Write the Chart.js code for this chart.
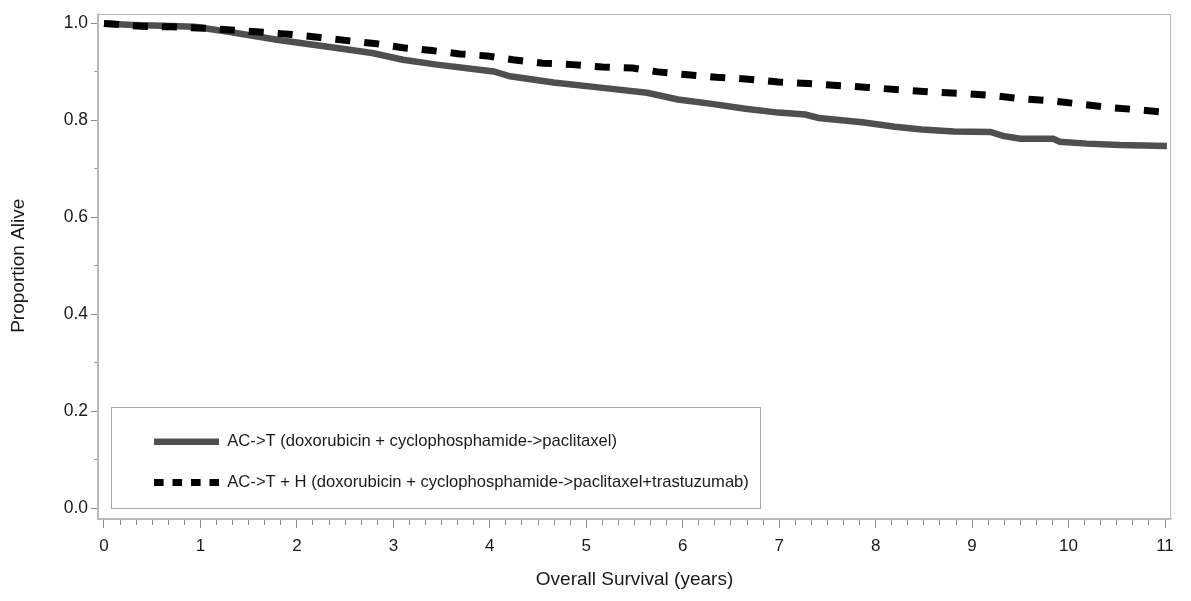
<!DOCTYPE html>
<html>
<head>
<meta charset="utf-8">
<script src="https://cdn.jsdelivr.net/npm/chart.js@4/dist/chart.umd.min.js"></script>
<style>
html,body{margin:0;padding:0;background:#fff;}
#wrap{width:1191px;height:601px;position:relative;}
canvas{display:block;}
</style>
</head>
<body>
<div id="wrap"><canvas id="c" width="1191" height="601"></canvas></div>
<script>
// ---- data ----
const seriesLabels = [
  'AC->T (doxorubicin + cyclophosphamide->paclitaxel)',
  'AC->T + H (doxorubicin + cyclophosphamide->paclitaxel+trastuzumab)'
];
const acTYears = [0, 0.3, 0.6, 0.94, 1.29, 1.81, 2.32, 2.78, 3.10, 3.45, 4.04, 4.21, 4.66, 5.17, 5.63, 5.95, 6.30, 6.65, 6.99, 7.27, 7.41, 7.86, 8.20, 8.48, 8.81, 9.19, 9.32, 9.50, 9.84, 9.91, 10.19, 10.53, 11.02];
const acTSurv  = [1.0, 0.997, 0.995, 0.993, 0.983, 0.966, 0.952, 0.939, 0.925, 0.915, 0.901, 0.891, 0.878, 0.867, 0.857, 0.843, 0.834, 0.824, 0.816, 0.812, 0.805, 0.796, 0.787, 0.781, 0.777, 0.776, 0.768, 0.762, 0.762, 0.756, 0.752, 0.749, 0.747];
const acTHYears = [0, 0.39, 0.70, 1.05, 1.36, 1.65, 1.95, 2.24, 2.55, 2.83, 3.10, 3.40, 3.69, 3.97, 4.24, 4.55, 4.86, 5.17, 5.48, 5.74, 6.05, 6.35, 6.68, 6.99, 7.30, 7.60, 7.92, 8.25, 8.55, 8.93, 9.22, 9.55, 9.84, 10.15, 10.40, 10.71, 10.98];
const acTHSurv  = [1.0, 0.994, 0.993, 0.990, 0.986, 0.982, 0.977, 0.971, 0.964, 0.958, 0.950, 0.944, 0.937, 0.933, 0.925, 0.918, 0.915, 0.910, 0.908, 0.900, 0.894, 0.889, 0.885, 0.879, 0.876, 0.872, 0.868, 0.863, 0.859, 0.855, 0.851, 0.844, 0.840, 0.833, 0.827, 0.822, 0.817];
const xTickValues = [0, 1, 2, 3, 4, 5, 6, 7, 8, 9, 10, 11];
const yTickValues = [0.0, 0.2, 0.4, 0.6, 0.8, 1.0];
const xTitle = 'Overall Survival (years)';
const yTitle = 'Proportion Alive';

// ---- styling / layout ----
const X_MINOR_DIV = 6, Y_MINOR_DIV = 2;
const FRAME = '#b9b9b9', TICKC = '#8a8a8a', TEXT = '#1a1a1a';
const FONT = "'Liberation Sans', Arial, sans-serif";
const LEGEND_DASH = [9.6, 8.9];
const PLOT_DASH = [15, 14];

function withMinor(major, div) {
  const out = [];
  for (let i = 0; i < major.length; i++) {
    out.push({ value: major[i] });
    if (i < major.length - 1) {
      const step = (major[i + 1] - major[i]) / div;
      for (let k = 1; k < div; k++) out.push({ value: +(major[i] + k * step).toFixed(6) });
    }
  }
  return out;
}
const xAllTicks = withMinor(xTickValues, X_MINOR_DIV);
const yAllTicks = withMinor(yTickValues, Y_MINOR_DIV);
const isMajorX = v => xTickValues.some(t => Math.abs(t - v) < 1e-6);
const isMajorY = v => yTickValues.some(t => Math.abs(t - v) < 1e-6);

const toXY = (xs, ys) => xs.map((x, i) => ({ x, y: ys[i] }));

const framePlugin = {
  id: 'frame',
  afterLayout(chart) {
    const lg = chart.legend;
    if (!lg) return;
    lg.left = 130; lg.top = 409.5; lg.right = 760; lg.bottom = 570;
    lg.width = lg.right - lg.left; lg.height = lg.bottom - lg.top;
  },
  beforeDraw(chart) {
    const { ctx } = chart;
    ctx.save();
    ctx.fillStyle = '#fff';
    ctx.fillRect(0, 0, chart.width, chart.height);
    ctx.restore();
  },
  afterDraw(chart) {
    const { ctx, chartArea: a } = chart;
    ctx.save();
    ctx.strokeStyle = FRAME;
    ctx.lineWidth = 1;
    ctx.strokeRect(Math.round(a.left) - 0.5, Math.round(a.top) + 0.5, Math.round(a.right - a.left), Math.round(a.bottom - a.top));
    ctx.strokeStyle = '#a9a9a9';
    ctx.strokeRect(111.5, 407.5, 649, 101);
    ctx.restore();
  }
};

new Chart(document.getElementById('c'), {
  type: 'line',
  data: {
    datasets: [
      {
        label: seriesLabels[0],
        data: toXY(acTYears, acTSurv),
        borderColor: '#4f4f4f',
        backgroundColor: '#4f4f4f',
        borderWidth: 6.5,
        pointRadius: 0,
        tension: 0,
        fill: false,
        order: 1
      },
      {
        label: seriesLabels[1],
        data: toXY(acTHYears, acTHSurv),
        borderColor: '#000000',
        backgroundColor: '#000000',
        borderWidth: 7,
        borderDash: PLOT_DASH,
        pointRadius: 0,
        tension: 0,
        fill: false,
        order: 0
      }
    ]
  },
  options: {
    responsive: false,
    devicePixelRatio: 1,
    animation: false,
    events: [],
    layout: { padding: { top: 10, right: 20, left: 0, bottom: 0 } },
    plugins: {
      tooltip: { enabled: false },
      legend: {
        display: true,
        position: 'chartArea',
        align: 'start',
        labels: {
          usePointStyle: true,
          pointStyle: 'line',
          pointStyleWidth: 65,
          padding: 24,
          color: TEXT,
          font: { family: FONT, size: 16.6 },
          sort: (a, b) => a.datasetIndex - b.datasetIndex,
          generateLabels(chart) {
            const items = Chart.defaults.plugins.legend.labels.generateLabels(chart);
            items.forEach(it => {
              const ds = chart.data.datasets[it.datasetIndex];
              it.pointStyle = 'line';
              it.lineCap = 'butt';
              it.strokeStyle = ds.borderColor;
              if (ds.borderDash && ds.borderDash.length) { it.lineDash = LEGEND_DASH; it.lineWidth = 7; }
              else { it.lineDash = []; it.lineWidth = 6.5; }
            });
            return items;
          }
        }
      }
    },
    scales: {
      x: {
        type: 'linear',
        position: 'bottom',
        min: -0.0622,
        max: 11.0622,
        bounds: 'data',
        afterBuildTicks(s) { s.ticks = xAllTicks.map(t => ({ value: t.value })); },
        afterFit(s) { s.height = 83; },
        border: { display: true, color: FRAME, width: 1 },
        grid: {
          display: true,
          drawOnChartArea: false,
          drawTicks: true,
          tickLength: 10,
          tickColor: TICKC,
          tickWidth: 1,
          tickBorderDash: ctx => (ctx.tick && !isMajorX(ctx.tick.value)) ? [6, 100] : []
        },
        ticks: {
          autoSkip: false,
          maxRotation: 0,
          padding: 8,
          color: TEXT,
          font: { family: FONT, size: 17 },
          callback: v => isMajorX(v) ? String(Math.round(v)) : ''
        },
        title: {
          display: true,
          text: xTitle,
          color: TEXT,
          font: { family: FONT, size: 19 },
          padding: { top: 0, bottom: 10 }
        }
      },
      y: {
        type: 'linear',
        position: 'left',
        min: -0.0205,
        max: 1.0205,
        bounds: 'data',
        afterBuildTicks(s) { s.ticks = yAllTicks.map(t => ({ value: t.value })); },
        afterFit(s) { s.width = 98; },
        border: { display: true, color: FRAME, width: 1 },
        grid: {
          display: true,
          drawOnChartArea: false,
          drawTicks: true,
          tickLength: 7,
          tickColor: TICKC,
          tickWidth: 1,
          tickBorderDash: ctx => (ctx.tick && !isMajorY(ctx.tick.value)) ? [3.5, 100] : [],
          tickBorderDashOffset: ctx => (ctx.tick && !isMajorY(ctx.tick.value)) ? 100 : 0
        },
        ticks: {
          autoSkip: false,
          padding: 3,
          color: TEXT,
          font: { family: FONT, size: 17.5 },
          callback: v => isMajorY(v) ? v.toFixed(1) : ''
        },
        title: {
          display: true,
          text: yTitle,
          color: TEXT,
          font: { family: FONT, size: 19 },
          padding: { top: 7, bottom: 0 }
        }
      }
    }
  },
  plugins: [framePlugin]
});
</script>
</body>
</html>
